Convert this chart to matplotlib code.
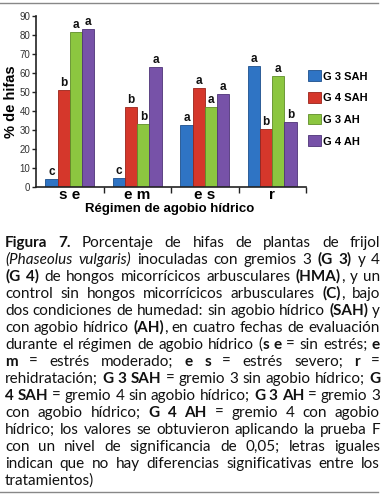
import matplotlib
matplotlib.use('Agg')
import matplotlib.pyplot as plt
from matplotlib.patches import Patch
from matplotlib.lines import Line2D

# data
categories = ['s e', 'e m', 'e s', 'r']
series = ['G 3 SAH', 'G 4 SAH', 'G 3 AH', 'G 4 AH']
g3_sah = [4.3, 4.9, 32.5, 63.5]
g4_sah = [51.0, 42.0, 52.0, 30.5]
g3_ah = [81.5, 33.0, 42.0, 58.3]
g4_ah = [83.0, 63.2, 48.8, 34.2]
let_g3_sah = ['c', 'c', 'a', 'a']
let_g4_sah = ['b', 'b', 'a', 'b']
let_g3_ah = ['a', 'b', 'a', 'a']
let_g4_ah = ['a', 'a', 'a', 'b']

caption = [
    "*Figura 7.* Porcentaje de hifas de plantas de frijol",
    "_(Phaseolus vulgaris)_ inoculadas con gremios 3 *(G 3)* y 4",
    "*(G 4)* de hongos micorrícicos arbusculares *(HMA)*, y un",
    "control sin hongos micorrícicos arbusculares *(C)*, bajo",
    "dos condiciones de humedad: sin agobio hídrico *(SAH)* y",
    "con agobio hídrico *(AH)*, en cuatro fechas de evaluación",
    "durante el régimen de agobio hídrico (*s e* = sin estrés; *e*",
    "*m* = estrés moderado; *e s* = estrés severo; *r* =",
    "rehidratación; *G 3 SAH* = gremio 3 sin agobio hídrico; *G*",
    "*4 SAH* = gremio 4 sin agobio hídrico; *G 3 AH* = gremio 3",
    "con agobio hídrico; *G 4 AH* = gremio 4 con agobio",
    "hídrico; los valores se obtuvieron aplicando la prueba F",
    "con un nivel de significancia de 0,05; letras iguales",
    "indican que no hay diferencias significativas entre los",
    "tratamientos)",
]

values = [g3_sah, g4_sah, g3_ah, g4_ah]
letters = [let_g3_sah, let_g4_sah, let_g3_ah, let_g4_ah]
colors = ['#2f74c4', '#d5372b', '#8cc640', '#7752a8']
edges = ['#1d4f8c', '#9a2319', '#5f8d28', '#4e3478']

W, H = 385, 500
fig = plt.figure(figsize=(W / 100, H / 100), dpi=100)
fig.patch.set_facecolor('white')

ax = fig.add_axes([36 / W, 1 - 187 / H, 270 / W, 171.3 / H])
bw = 0.18
for i, (vals, lets) in enumerate(zip(values, letters)):
    xs = [k + (i - 1.5) * bw for k in range(len(categories))]
    ax.bar(xs, vals, width=bw, color=colors[i], edgecolor=edges[i], linewidth=0.6)
    for x, v, l in zip(xs, vals, lets):
        ax.text(x, v + 0.6, l, ha='center', va='bottom', fontsize=8.5,
                fontweight='bold', family='Liberation Sans', color='#111')

ax.set_xlim(-0.5, 3.5)
ax.set_ylim(0, 90)
ax.set_yticks(range(0, 91, 10))
ax.set_xticks([0.5, 1.5, 2.5, 3.5])
ax.set_xticklabels([])
ax.set_xticks(range(4), minor=True)
ax.set_xticklabels(categories, minor=True, fontsize=11, fontweight='bold',
                   family='Liberation Sans')
ax.tick_params(axis='x', which='minor', length=0, pad=1)
ax.tick_params(axis='x', which='major', length=4, width=1, color='#222')
ax.tick_params(axis='y', length=3, width=1, color='#222', labelsize=7, pad=1,
               labelcolor='#333')
for lab in ax.get_yticklabels():
    lab.set_family('Liberation Sans')
for s in ['top', 'right']:
    ax.spines[s].set_visible(False)
for s in ['left', 'bottom']:
    ax.spines[s].set_color('#222')
    ax.spines[s].set_linewidth(1.2)

ax.set_ylabel('% de hifas', fontsize=10.5, fontweight='bold',
              family='Liberation Sans', labelpad=1)
fig.text(170 / W, 1 - 209 / H, 'Régimen de agobio hídrico', ha='center',
         va='center', fontsize=9.5, fontweight='bold', family='Liberation Sans')

handles = [Patch(facecolor=c, edgecolor=e, linewidth=0.6) for c, e in zip(colors, edges)]
fig.legend(handles, series, loc='upper left', bbox_to_anchor=(304 / W, 1 - 66 / H),
           frameon=False, handlelength=1.1, handleheight=1.1, handletextpad=0.2,
           labelspacing=0.95, borderaxespad=0,
           prop={'family': 'Liberation Sans', 'weight': 'bold', 'size': 8})

# rules above and below
fig.add_artist(Line2D([0, 378 / W], [1 - 3 / H] * 2, color='#888', lw=1))
fig.add_artist(Line2D([0, 378 / W], [1 - 492 / H] * 2, color='#888', lw=1))

# justified caption
cap_font = 'Lato'
cap_size = 11
renderer = fig.canvas.get_renderer()


def parse(line):
    words, cur, bold, ital = [], [], False, False
    buf = ''
    for ch in line:
        if ch in '*_' or ch == ' ':
            if buf:
                cur.append((buf, bold, ital))
                buf = ''
            if ch == '*':
                bold = not bold
            elif ch == '_':
                ital = not ital
            else:
                if cur:
                    words.append(cur)
                cur = []
        else:
            buf += ch
    if buf:
        cur.append((buf, bold, ital))
    if cur:
        words.append(cur)
    return words


def run_kw(bold, ital):
    return dict(fontsize=cap_size, family=cap_font,
                fontweight='bold' if bold else 'normal',
                style='italic' if ital else 'normal', color='#111')


def width(s, bold, ital):
    t = fig.text(0, 0, s, **run_kw(bold, ital))
    w = t.get_window_extent(renderer).width
    t.remove()
    return w


left, right = 5, 380
space_w = width('a a', False, False) - width('aa', False, False)
for li, line in enumerate(caption):
    words = parse(line)
    wlist = [[width(s, b, it) for s, b, it in wd] for wd in words]
    total = sum(sum(w) for w in wlist)
    if li < len(caption) - 1 and len(words) > 1:
        gap = (right - left - total) / (len(words) - 1)
    else:
        gap = space_w
    x = left
    y = 1 - (247 + 17 * li) / H
    for wd, ws in zip(words, wlist):
        for (s, b, it), w in zip(wd, ws):
            fig.text(x / W, y, s, ha='left', va='baseline', **run_kw(b, it))
            x += w
        x += gap

fig.savefig('out.png', dpi=100)
